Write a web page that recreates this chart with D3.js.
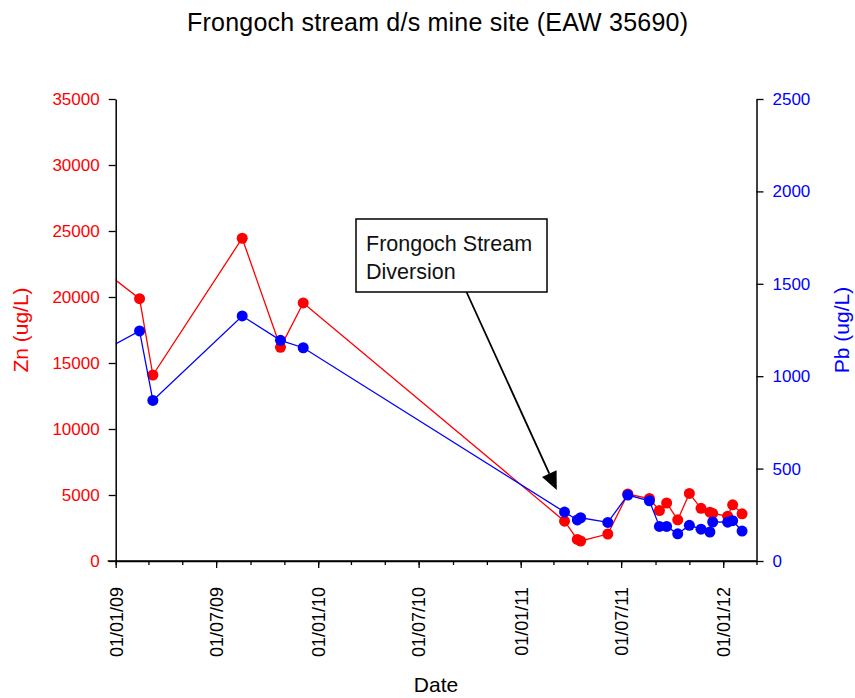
<!DOCTYPE html>
<html>
<head>
<meta charset="utf-8">
<script src="https://cdn.jsdelivr.net/npm/d3@7"></script>
<style>
  html, body { margin: 0; padding: 0; background: #fff; }
  svg { display: block; }
  text { font-family: "Liberation Sans", Arial, sans-serif; }
</style>
</head>
<body>
<div id="chart"></div>
<script>
// Sampling dates (first one falls just before the plotted window)
const sampleDates = [
  "2008-11-20", "2009-02-13", "2009-03-09", "2009-08-17", "2009-10-25", "2009-12-05",
  "2011-03-21", "2011-04-13", "2011-04-19", "2011-06-07", "2011-07-13", "2011-08-21",
  "2011-09-08", "2011-09-21", "2011-10-11", "2011-11-01", "2011-11-22", "2011-12-08",
  "2011-12-13", "2012-01-09", "2012-01-18", "2012-02-04"
];
// Zinc, ug/L
const znValues = [
  22640, 19870, 14090, 24450, 16190, 19550,
  3015, 1630, 1515, 2045, 5075, 4735,
  3825, 4395, 3120, 5115, 3990, 3700,
  3600, 3395, 4260, 3575
];
// Lead, ug/L
const pbValues = [
  1106, 1245, 869, 1326, 1194, 1154,
  265, 222, 234, 209, 357, 326,
  187, 187, 147, 193, 172, 157,
  211, 210, 218, 162
];
const znTicks = [0, 5000, 10000, 15000, 20000, 25000, 30000, 35000];
const pbTicks = [0, 500, 1000, 1500, 2000, 2500];
const dateDomain = ["2009-01-01", "2012-03-01"];
const noteLines = ["Frongoch Stream", "Diversion"];

const W = 855, H = 698;
const m = { left: 115.7, top: 99, right: W - 756.5, bottom: H - 561 };
const iw = W - m.left - m.right, ih = H - m.top - m.bottom;
const parse = d3.timeParse("%Y-%m-%d");

const svg = d3.select("#chart").append("svg").attr("width", W).attr("height", H);

const x = d3.scaleTime().domain(dateDomain.map(parse)).range([m.left, m.left + iw]);
const yZn = d3.scaleLinear().domain([0, 35000]).range([m.top + ih, m.top]);
const yPb = d3.scaleLinear().domain([0, 2500]).range([m.top + ih, m.top]);

const RED = "#ff0000", BLUE = "#0000ff";

// Title
svg.append("text").attr("x", 437.5).attr("y", 30.5).attr("text-anchor", "middle")
  .attr("font-size", 25).attr("fill", "#000")
  .attr("textLength", 501).attr("lengthAdjust", "spacing")
  .text("Frongoch stream d/s mine site (EAW 35690)");

// Clip for the series lines
svg.append("defs").append("clipPath").attr("id", "plotClip")
  .append("rect").attr("x", m.left).attr("y", m.top).attr("width", iw).attr("height", ih);

const data = sampleDates.map((d, i) => ({ date: parse(d), zn: znValues[i], pb: pbValues[i] }));
const inView = d => d.date >= x.domain()[0] && d.date <= x.domain()[1];

// Zn series
svg.append("path").datum(data).attr("clip-path", "url(#plotClip)")
  .attr("fill", "none").attr("stroke", RED).attr("stroke-width", 1.3)
  .attr("d", d3.line().x(d => x(d.date)).y(d => yZn(d.zn)));
svg.append("g").selectAll("circle").data(data.filter(inView)).join("circle")
  .attr("cx", d => x(d.date)).attr("cy", d => yZn(d.zn)).attr("r", 5.5).attr("fill", RED);

// Pb series
svg.append("path").datum(data).attr("clip-path", "url(#plotClip)")
  .attr("fill", "none").attr("stroke", BLUE).attr("stroke-width", 1.3)
  .attr("d", d3.line().x(d => x(d.date)).y(d => yPb(d.pb)));
svg.append("g").selectAll("circle").data(data.filter(inView)).join("circle")
  .attr("cx", d => x(d.date)).attr("cy", d => yPb(d.pb)).attr("r", 5.5).attr("fill", BLUE);

// Axes
const axisStyle = g => {
  g.selectAll(".domain").attr("stroke", "#000").attr("stroke-width", 1.5);
  g.selectAll(".tick line").attr("stroke", "#000").attr("stroke-width", 1.3);
};

const gLeft = svg.append("g").attr("transform", `translate(${m.left},0)`)
  .call(d3.axisLeft(yZn).tickValues(znTicks).tickSize(7).tickPadding(9).tickSizeOuter(0).tickFormat(d3.format("d")));
axisStyle(gLeft);
gLeft.selectAll(".tick text").attr("fill", RED).attr("font-size", 17).attr("font-family", "Liberation Sans, Arial, sans-serif");

const gRight = svg.append("g").attr("transform", `translate(${m.left + iw},0)`)
  .call(d3.axisRight(yPb).tickValues(pbTicks).tickSize(7).tickPadding(9).tickSizeOuter(0).tickFormat(d3.format("d")));
axisStyle(gRight);
gRight.selectAll(".tick text").attr("fill", BLUE).attr("font-size", 17).attr("font-family", "Liberation Sans, Arial, sans-serif");

// Minor date ticks every two months
const gMinor = svg.append("g").attr("transform", `translate(0,${m.top + ih})`)
  .call(d3.axisBottom(x).ticks(d3.timeMonth.every(2)).tickSize(4).tickFormat("").tickSizeOuter(0));
axisStyle(gMinor);

const gBottom = svg.append("g").attr("transform", `translate(0,${m.top + ih})`)
  .call(d3.axisBottom(x).ticks(d3.timeMonth.every(6)).tickSize(7).tickSizeOuter(0)
    .tickFormat(d3.timeFormat("%d/%m/%y")));
axisStyle(gBottom);
gBottom.select(".domain").attr("d", `M${m.left - 8},0H${m.left + iw}`);
gBottom.selectAll(".tick text")
  .attr("fill", "#000").attr("font-size", 18).attr("font-family", "Liberation Sans, Arial, sans-serif")
  .attr("text-anchor", "end").attr("dy", "0.35em")
  .attr("transform", "translate(0,26) rotate(-90)")
  .attr("x", 0).attr("y", 0);

// Axis titles
svg.append("text").attr("transform", "translate(28,330) rotate(-90)")
  .attr("text-anchor", "middle").attr("font-size", 21).attr("fill", RED).text("Zn (ug/L)");
svg.append("text").attr("transform", "translate(849,330) rotate(-90)")
  .attr("text-anchor", "middle").attr("font-size", 21).attr("fill", BLUE).text("Pb (ug/L)");
svg.append("text").attr("x", 436).attr("y", 692).attr("text-anchor", "middle")
  .attr("font-size", 21).attr("fill", "#000").text("Date");

// Annotation box with an arrow pointing at the diversion date
const box = { x: 356, y: 219, w: 191, h: 73 };
const tipX = x(parse("2011-03-07")), tipY = yZn(5380);
const startX = 466.5, startY = box.y + box.h;
const ang = Math.atan2(tipY - startY, tipX - startX);
const headLen = 18, headHalf = 8;
const baseX = tipX - headLen * Math.cos(ang), baseY = tipY - headLen * Math.sin(ang);
svg.append("line").attr("x1", startX).attr("y1", startY).attr("x2", baseX).attr("y2", baseY)
  .attr("stroke", "#000").attr("stroke-width", 1.8);
svg.append("path")
  .attr("d", `M${tipX},${tipY}L${baseX + headHalf * Math.sin(ang)},${baseY - headHalf * Math.cos(ang)}L${baseX - headHalf * Math.sin(ang)},${baseY + headHalf * Math.cos(ang)}Z`)
  .attr("fill", "#000");
svg.append("rect").attr("x", box.x).attr("y", box.y).attr("width", box.w).attr("height", box.h)
  .attr("fill", "#fff").attr("stroke", "#000").attr("stroke-width", 1.5);
svg.append("g").selectAll("text").data(noteLines).join("text")
  .attr("x", box.x + 10).attr("y", (d, i) => box.y + 32 + i * 28)
  .attr("font-family", "Lato, 'Open Sans', sans-serif").attr("font-size", 21.5).attr("fill", "#111")
  .text(d => d);
</script>
</body>
</html>
